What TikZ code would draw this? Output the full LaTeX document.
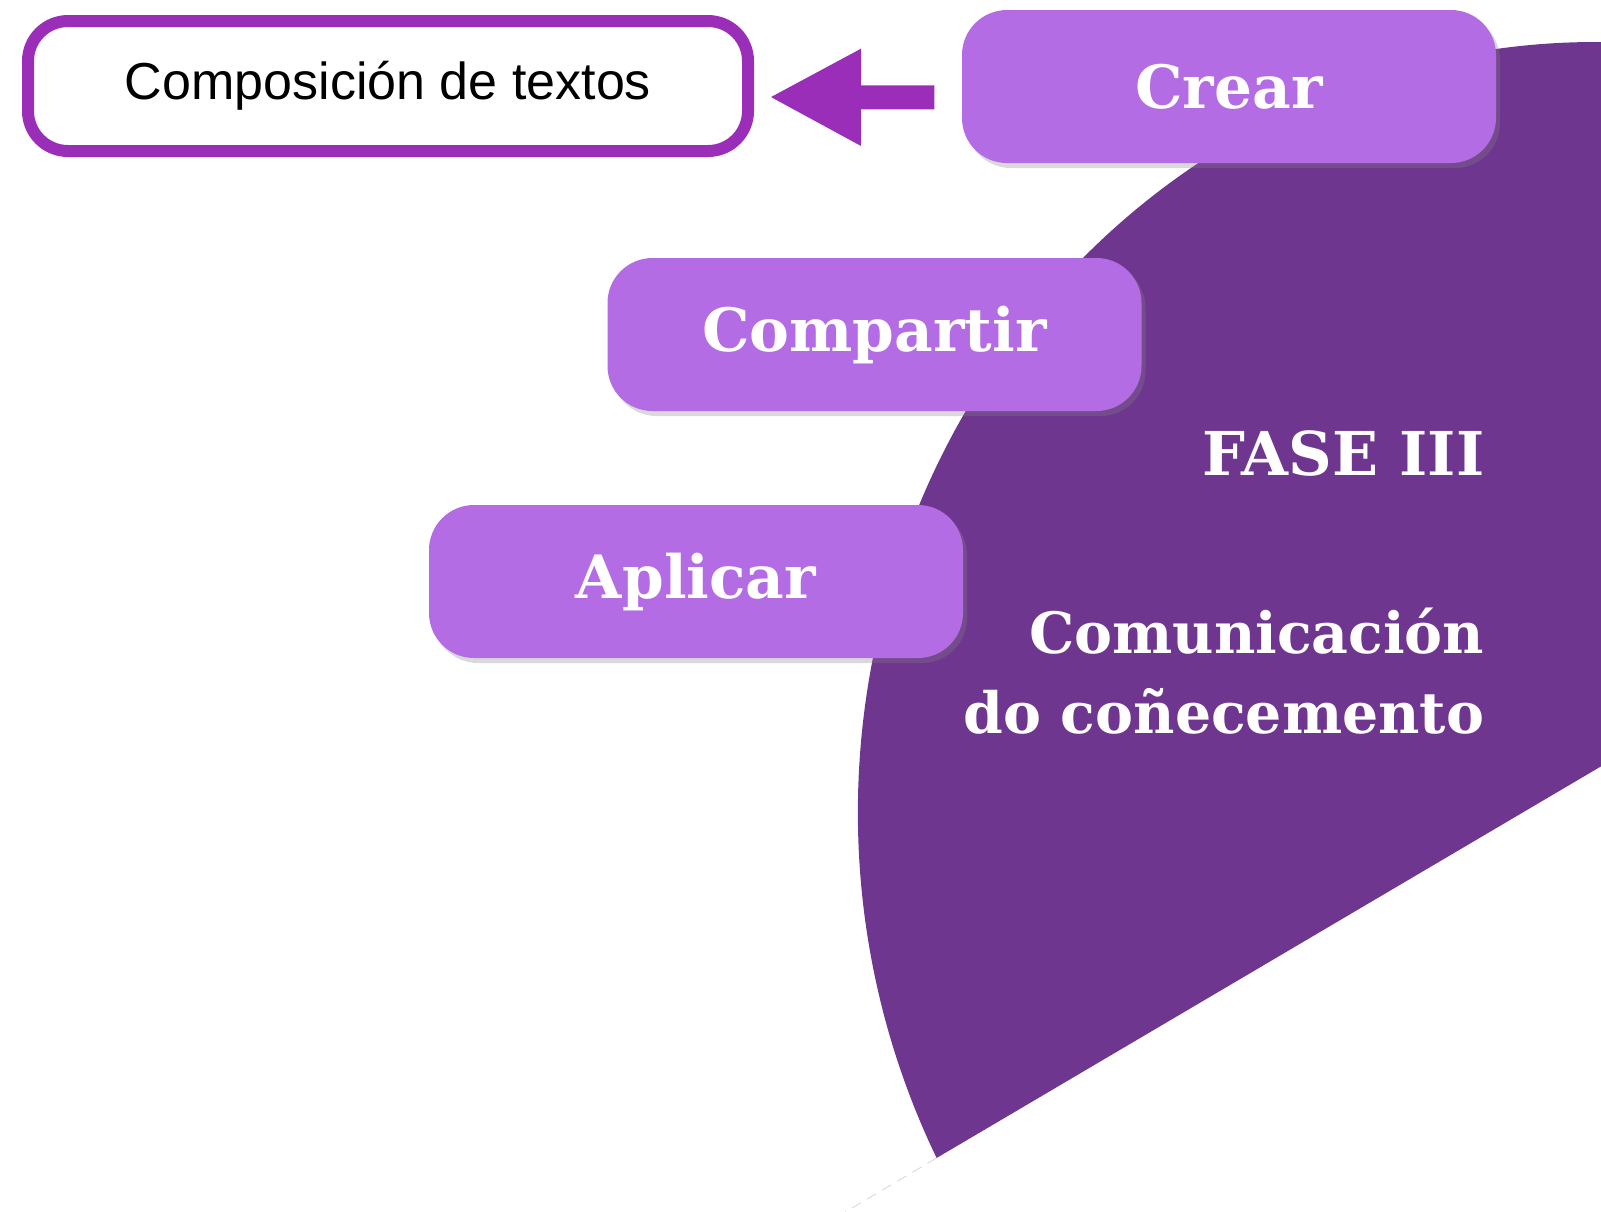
\documentclass[tikz,border=0pt]{standalone}
\usepackage{fontspec}
\setmainfont{Liberation Sans}
\newfontfamily\slabfont{DejaVu Serif}
\usetikzlibrary{arrows.meta, shadows}
\definecolor{fasecol}{HTML}{6F3690}
\definecolor{boxcol}{HTML}{B36CE3}
\definecolor{framecol}{HTML}{9A2EB9}

\begin{document}
\begin{tikzpicture}[every node/.style={inner sep=0pt},
        stage/.style={rounded corners=0.45cm, fill=boxcol, minimum width=5.34cm, minimum height=1.53cm,
            text=white, font=\slabfont\bfseries\fontsize{17}{20}\selectfont,
            drop shadow={opacity=0.3, shadow xshift=0.04cm, shadow yshift=-0.05cm}},
        slab/.style={text=white, font=\slabfont\bfseries\fontsize{16.2}{22.7}\selectfont}]
        \useasboundingbox (0,0) rectangle (16.01,-12.11);

        % sector of phase III
        \begin{scope}
            \clip (0,0) rectangle (16.01,-12.11);
            \coordinate (cen) at (15.95,-8.12);
            \fill[fasecol] (cen) ++(206.7:7.37 and 7.70) coordinate (tip)
                arc[start angle=206.7, end angle=80, x radius=7.37, y radius=7.70]
                -- (17.0,-7.08) -- (tip) -- cycle;
            \draw[gray!35, densely dashed, very thin] (tip) -- ++(-1.2,-0.71);
        \end{scope}

        \node[slab, anchor=base east, font=\slabfont\bfseries\fontsize{17.2}{20}\selectfont] (fase) at (14.85,-4.75) {FASE III};
        \node[slab, anchor=base east, align=right] (tema) at (14.85,-7.33) {Comunicación\\do coñecemento};

        \node[stage] (crear) at (12.29,-0.865) {Crear};
        \node[stage] (compartir) at (8.745,-3.345) {Compartir};
        \node[stage] (aplicar) at (6.96,-5.815) {Aplicar};

        \node[draw=framecol, line width=0.12cm, rounded corners=0.4cm, fill=white,
            minimum width=7.2cm, minimum height=1.3cm, font=\fontsize{14.8}{18}\selectfont,
            drop shadow={opacity=0.3, shadow xshift=0.03cm, shadow yshift=-0.05cm}] (texto) at (3.88,-0.86) {Composición de textos};

        \draw[framecol, line width=0.24cm, -{Triangle[length=0.92cm, width=0.9cm]},
            shorten <=0.27cm, shorten >=0.15cm]
            ([yshift=-0.11cm]crear.west) -- ([yshift=-0.11cm]texto.east);
\end{tikzpicture}
\end{document}
